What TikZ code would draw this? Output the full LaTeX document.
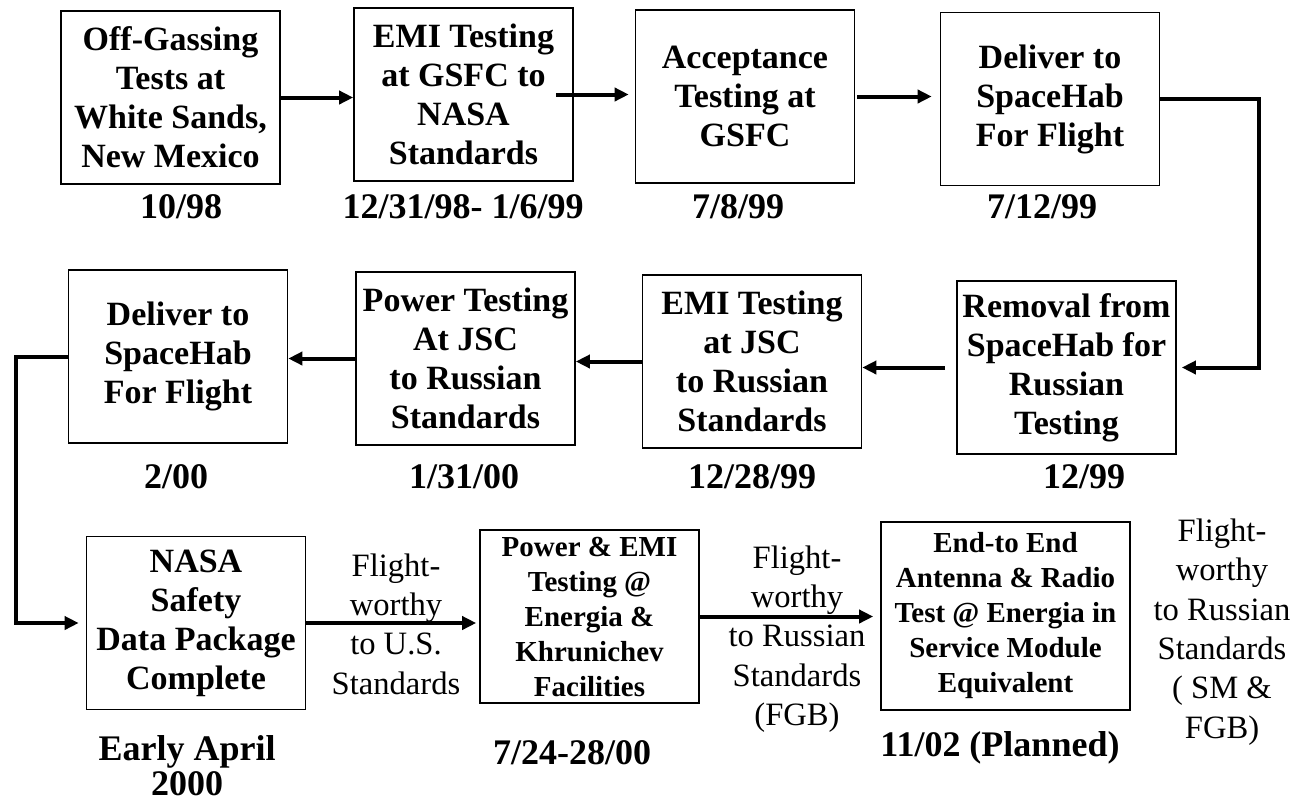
\documentclass[tikz,border=0pt]{standalone}
\usepackage{fontspec}
\setmainfont{Liberation Serif}
\usetikzlibrary{arrows.meta}

\begin{document}
\begin{tikzpicture}[x=0.5pt,y=-0.5pt,
  box/.style={draw, line width=0.8pt, minimum width=109.5pt, minimum height=86.5pt,
    inner sep=0pt, align=center, font=\fontsize{17}{19.5}\selectfont\bfseries},
  smallbox/.style={box, font=\fontsize{14.5}{17.5}\selectfont\bfseries},
  date/.style={font=\fontsize{18}{17.5}\selectfont\bfseries, align=center, inner sep=0pt},
  note/.style={font=\fontsize{16.3}{19.7}\selectfont, align=center, inner sep=0pt},
  arr/.style={line width=2pt, -{Triangle[length=7pt,width=6.5pt]}}]
\useasboundingbox (0,0) rectangle (1300,804);
% first row
\node[box] (gas) at (170.5,97.5) {Off-Gassing\\Tests at\\White Sands,\\New Mexico};
\node[box] (emig) at (463.5,94.5) {EMI Testing\\at GSFC to\\NASA\\Standards};
\node[box] (accept) at (745,96.5) {Acceptance\\Testing at\\GSFC};
\node[box] (deliv) at (1050,99) {Deliver to\\SpaceHab\\For Flight};
% second row
\node[box] (remove) at (1066.5,367.5) {Removal from\\SpaceHab for\\Russian\\Testing};
\node[box] (emij) at (752,361.5) {EMI Testing\\at JSC\\to Russian\\Standards};
\node[box] (powj) at (465.5,358.5) {Power Testing\\At JSC\\to Russian\\Standards};
\node[box] (delivb) at (178,356.5) {Deliver to\\SpaceHab\\For Flight};
% third row
\node[box] (safety) at (196,623) {NASA\\Safety\\Data Package\\Complete};
\node[smallbox] (energia) at (589.5,616.5) {Power \& EMI\\Testing @\\Energia \&\\Khrunichev\\Facilities};
\node[smallbox, minimum width=124.5pt, minimum height=94pt] (endend) at (1005.5,616)
  {End-to End\\Antenna \& Radio\\Test @ Energia in\\Service Module\\Equivalent};
% dates
\node[date] (dgas) at (181,207) {10/98};
\node[date] (demig) at (463,207) {12/31/98- 1/6/99};
\node[date] (daccept) at (738,207) {7/8/99};
\node[date] (ddeliv) at (1042,207) {7/12/99};
\node[date] (dremove) at (1084,477) {12/99};
\node[date] (demij) at (752,477) {12/28/99};
\node[date] (dpowj) at (464,477) {1/31/00};
\node[date] (ddelivb) at (176,477) {2/00};
\node[date] (dsafety) at (187,766) {Early April\\2000};
\node[date] (denergia) at (572,753) {7/24-28/00};
\node[date] (dendend) at (1000,748) {11/02 (Planned)};
% flightworthy notes
\node[note] (fwus) at (396,624) {Flight-\\worthy\\to U.S.\\Standards};
\node[note] (fwfgb) at (797,639) {Flight-\\worthy\\to Russian\\Standards\\(FGB)};
\node[note] (fwsm) at (1222,632) {Flight-\\worthy\\to Russian\\Standards\\( SM \&\\FGB)};
% connectors
\draw[arr] (gas.east) -- (gas.east -| emig.west);
\draw[arr, shorten >=3pt] ([xshift=-9pt]emig.east) -- (emig.east -| accept.west);
\draw[arr, shorten >=4pt] ([xshift=1pt]accept.east) -- (accept.east -| deliv.west);
\draw[arr, shorten >=2.5pt] (deliv.east) -- ++(99,0) |- (remove.east);
\draw[arr, shorten <=5.5pt] (remove.west) -- (remove.west -| emij.east);
\draw[arr] (emij.west) -- (emij.west -| powj.east);
\draw[arr] (powj.west) -- (powj.west -| delivb.east);
\draw[arr, shorten >=3.5pt] (delivb.west) -- ++(-52,0) |- (safety.west);
\draw[arr, shorten >=1.5pt] (safety.east) -- (safety.east -| energia.west);
\draw[arr, shorten >=3.5pt] (energia.east) -- (energia.east -| endend.west);
\end{tikzpicture}
\end{document}
